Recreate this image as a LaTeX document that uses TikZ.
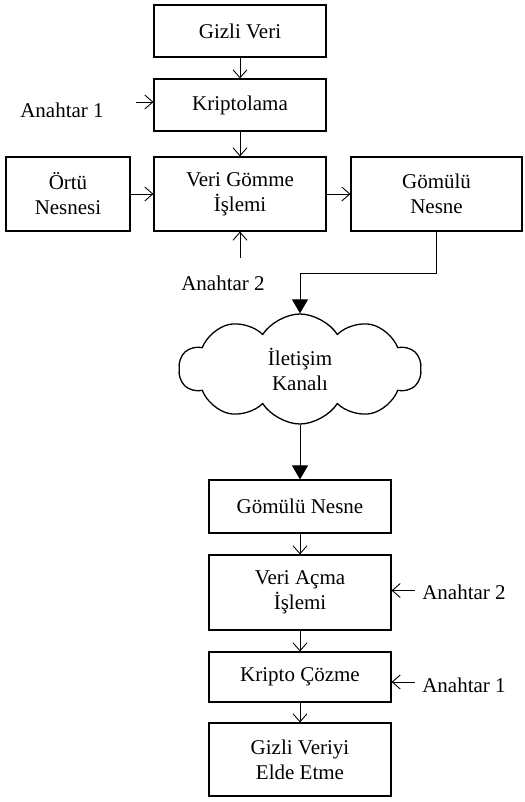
\documentclass[tikz,border=0pt]{standalone}
\usepackage{fontspec}
\setmainfont{Liberation Serif}
\usetikzlibrary{positioning,shapes.symbols,arrows.meta}
\tikzstyle{block} = [draw, rectangle, line width=1.1pt, 
    minimum height=52pt, minimum width=172pt, align=center]
\tikzstyle{input} = [coordinate]
\tikzstyle{keytext} = [align=center, inner sep=0pt]
\tikzstyle{channel} = [draw, cloud, cloud puffs=10, cloud puff arc=115, cloud ignores aspect,
    line width=1.3pt, minimum width=242pt, minimum height=110pt, align=center]

\begin{document}
\begin{tikzpicture}[node distance=0em, >={Straight Barb[length=8pt,width=14pt]},
    font=\fontsize{21}{25}\selectfont, line width=0.9pt]
    \useasboundingbox (0,0) rectangle (524pt,-802pt);
    \node [input, name=input] at (240pt,-31pt) {};
    \node [block, below of=input] (gizli)  {Gizli Veri};
    \node [block, yshift=-74pt, below of=gizli] (kripto)  {Kriptolama};
    \node [block, minimum height=74pt, yshift=-89pt, below of=kripto] (gomme)  {Veri Gömme\\İşlemi};
    \node [block, minimum height=74pt, minimum width=124pt, xshift=-172pt, left of=gomme] (ortu)  {Örtü\\Nesnesi};
    \node [block, minimum height=74pt, minimum width=171pt, xshift=196.5pt, right of=gomme] (gomulu)  {Gömülü\\Nesne};
    \node [keytext, xshift=-178pt, yshift=-5pt, left of=kripto] (key1) {Anahtar 1};
    \node [keytext, xshift=-17pt, yshift=-89pt, below of=gomme] (key2) {Anahtar 2};
    \node [channel, xshift=60pt, yshift=-175pt, below of=gomme] (kanal) {İletişim\\Kanalı};
    \node [block, minimum width=182pt, minimum height=53pt, yshift=-137.5pt, below of=kanal] (gomulub)  {Gömülü Nesne};
    \node [block, minimum width=182pt, minimum height=75pt, yshift=-86pt, below of=gomulub] (acma)  {Veri Açma\\İşlemi};
    \node [block, minimum width=182pt, minimum height=50pt, yshift=-84.5pt, below of=acma] (cozme)  {Kripto Çözme};
    \node [block, minimum width=182pt, minimum height=73pt, yshift=-82.5pt, below of=cozme] (elde)  {Gizli Veriyi\\Elde Etme};
    \node [keytext, xshift=164pt, right of=acma] (key2b) {Anahtar 2};
    \node [keytext, xshift=164pt, yshift=-8pt, right of=cozme] (key1b) {Anahtar 1};

    \draw [draw,->] (gizli) -- (kripto);
    \draw [draw,->] (kripto) -- (gomme);
    \draw [draw,->] ([xshift=-17pt, yshift=3pt]kripto.west) -- ([yshift=3pt]kripto.west);
    \draw [draw,->] (ortu) -- (gomme);
    \draw [draw,->] (gomme) -- (gomulu);
    \draw [draw,->] ([yshift=-26pt]gomme.south) -- (gomme.south);
    \draw [draw,-{Triangle[length=14pt,width=16pt]}] (gomulu.south) -- ++(0,-42pt) -| (kanal.north);
    \draw [draw,-{Triangle[length=14pt,width=16pt]}] (kanal.south) -- (gomulub.north);
    \draw [draw,->] (gomulub) -- (acma);
    \draw [draw,->] (acma) -- (cozme);
    \draw [draw,->] (cozme) -- (elde);
    \draw [draw,->] ([xshift=23pt, yshift=2pt]acma.east) -- ([yshift=2pt]acma.east);
    \draw [draw,->] ([xshift=23pt, yshift=-5pt]cozme.east) -- ([yshift=-5pt]cozme.east);
\end{tikzpicture}
\end{document}
